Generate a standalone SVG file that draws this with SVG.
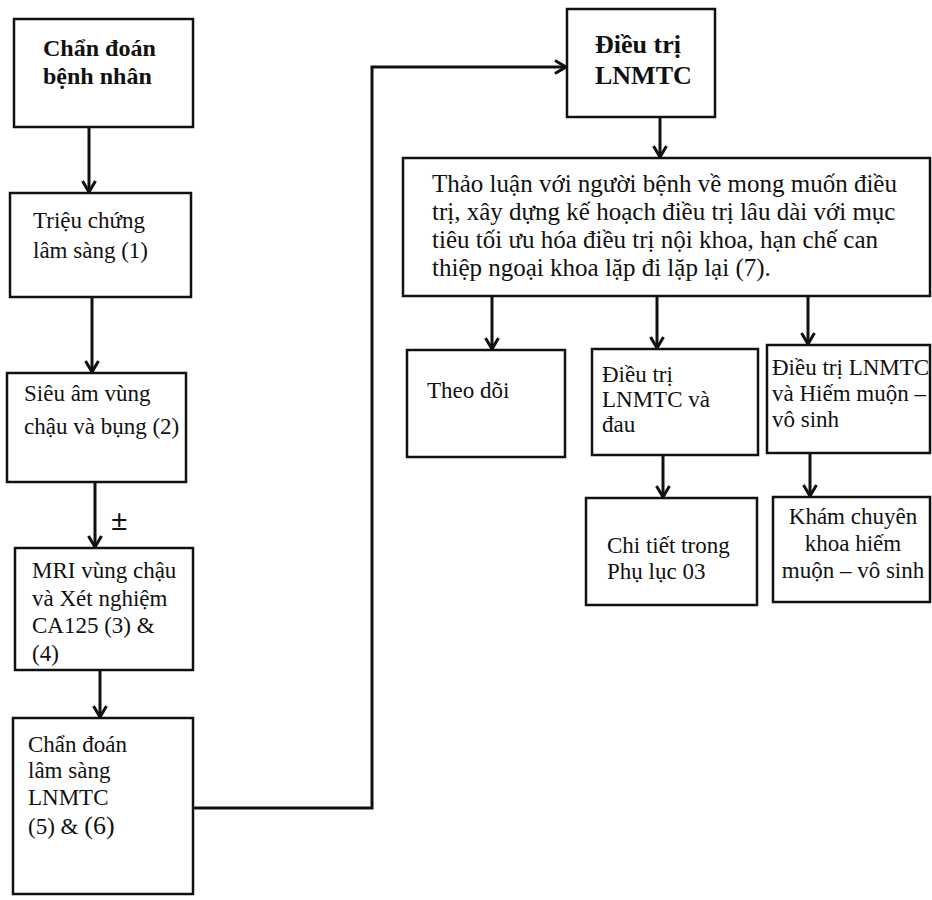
<svg xmlns="http://www.w3.org/2000/svg" width="932" height="900" viewBox="0 0 932 900">
<defs>
<style>
.box{fill:#fff;stroke:#111;stroke-width:2.5}
.t{font-family:"Liberation Serif","Times New Roman",serif;font-size:23px;fill:#111}
.b{font-family:"Liberation Serif","Times New Roman",serif;font-size:24px;font-weight:bold;fill:#111}
.big{font-size:26px}
.p{font-size:25px}
.pm{font-size:30px}
.c{fill:none;stroke:#111;stroke-width:3}
</style>
<marker id="ah" markerUnits="userSpaceOnUse" markerWidth="16" markerHeight="16" refX="13" refY="8" orient="auto">
<path d="M2,1.5 L13,8 L2,14.5" fill="none" stroke="#111" stroke-width="3"/>
</marker>
</defs>
<rect width="932" height="900" fill="#fff"/>
<g id="connectors">
<line class="c" x1="89" y1="127" x2="89" y2="192" marker-end="url(#ah)"/>
<line class="c" x1="92" y1="297" x2="92" y2="372" marker-end="url(#ah)"/>
<line class="c" x1="95" y1="482" x2="95" y2="547" marker-end="url(#ah)"/>
<line class="c" x1="100" y1="670" x2="100" y2="717" marker-end="url(#ah)"/>
<polyline class="c" points="193,808 372,808 372,67 566,67" marker-end="url(#ah)"/>
<line class="c" x1="660" y1="117" x2="660" y2="157" marker-end="url(#ah)"/>
<line class="c" x1="492" y1="296" x2="492" y2="349" marker-end="url(#ah)"/>
<line class="c" x1="657" y1="296" x2="657" y2="348" marker-end="url(#ah)"/>
<line class="c" x1="808" y1="296" x2="808" y2="344" marker-end="url(#ah)"/>
<line class="c" x1="663" y1="455" x2="663" y2="497" marker-end="url(#ah)"/>
<line class="c" x1="810" y1="453" x2="810" y2="496" marker-end="url(#ah)"/>
<text class="b pm" x="111" y="530">±</text>
</g>
<g id="n1">
<rect class="box" x="14" y="19" width="179" height="108"/>
<text class="b" x="43" y="56">Chẩn đoán</text>
<text class="b" x="43" y="84">bệnh nhân</text>
</g>
<g id="n2">
<rect class="box" x="10" y="193" width="181" height="104"/>
<text class="t" x="33" y="228">Triệu chứng</text>
<text class="t" x="33" y="258">lâm sàng (1)</text>
</g>
<g id="n3">
<rect class="box" x="7" y="373" width="179" height="109"/>
<text class="t" x="24" y="401">Siêu âm vùng</text>
<text class="t" x="24" y="434">chậu và bụng (2)</text>
</g>
<g id="n4">
<rect class="box" x="15" y="548" width="178" height="122"/>
<text class="t" x="32" y="578">MRI vùng chậu</text>
<text class="t" x="32" y="606">và Xét nghiệm</text>
<text class="t" x="32" y="633">CA125 (3) &amp;</text>
<text class="t" x="32" y="661">(4)</text>
</g>
<g id="n5">
<rect class="box" x="13" y="718" width="180" height="176"/>
<text class="t" x="28" y="752">Chẩn đoán</text>
<text class="t" x="28" y="778">lâm sàng</text>
<text class="t" x="28" y="805">LNMTC</text>
<text class="t" x="28" y="834">(5) &amp; <tspan class="big">(6)</tspan></text>
</g>
<g id="n6">
<rect class="box" x="567" y="9" width="148" height="108"/>
<text class="b big" x="595" y="53">Điều trị</text>
<text class="b big" x="595" y="84">LNMTC</text>
</g>
<g id="n7">
<rect class="box" x="403" y="158" width="527" height="138"/>
<text class="t p" x="432" y="192">Thảo luận với người bệnh về mong muốn điều</text>
<text class="t p" x="432" y="220">trị, xây dựng kế hoạch điều trị lâu dài với mục</text>
<text class="t p" x="432" y="248">tiêu tối ưu hóa điều trị nội khoa, hạn chế can</text>
<text class="t p" x="432" y="276">thiệp ngoại khoa lặp đi lặp lại (7).</text>
</g>
<g id="n8">
<rect class="box" x="407" y="350" width="158" height="107"/>
<text class="t" x="427" y="398">Theo dõi</text>
</g>
<g id="n9">
<rect class="box" x="592" y="349" width="166" height="106"/>
<text class="t" x="602" y="382">Điều trị</text>
<text class="t" x="602" y="407">LNMTC và</text>
<text class="t" x="602" y="432">đau</text>
</g>
<g id="n10">
<rect class="box" x="767" y="345" width="163" height="108"/>
<text class="t" x="772" y="375">Điều trị LNMTC</text>
<text class="t" x="772" y="401">và Hiếm muộn –</text>
<text class="t" x="772" y="427">vô sinh</text>
</g>
<g id="n11">
<rect class="box" x="586" y="498" width="171" height="107"/>
<text class="t" x="607" y="553">Chi tiết trong</text>
<text class="t" x="607" y="579">Phụ lục 03</text>
</g>
<g id="n12">
<rect class="box" x="773" y="497" width="157" height="105"/>
<text class="t" x="853" y="524" text-anchor="middle">Khám chuyên</text>
<text class="t" x="853" y="551" text-anchor="middle">khoa hiếm</text>
<text class="t" x="853" y="578" text-anchor="middle">muộn – vô sinh</text>
</g>
</svg>
